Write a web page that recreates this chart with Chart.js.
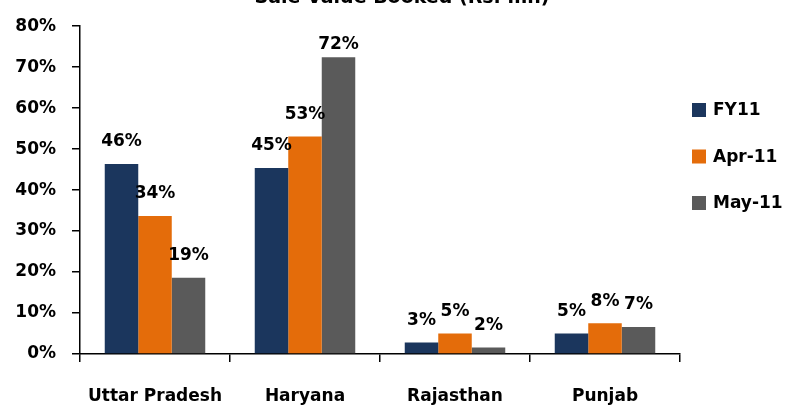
<!DOCTYPE html>
<html><head><meta charset="utf-8">
<script src="https://cdn.jsdelivr.net/npm/chart.js@4/dist/chart.umd.min.js"></script>
<style>html,body{margin:0;padding:0;background:#fff}#wrap{width:790px;height:407px}</style>
</head><body><div id="wrap"><canvas id="c" width="790" height="407"></canvas></div>
<script>
const titleText = "Sale Value Booked (Rs. mn)";
const categories = ["Uttar Pradesh", "Haryana", "Rajasthan", "Punjab"];
const seriesNames = ["FY11", "Apr-11", "May-11"];
const fy11 = [46.4, 45.4, 2.8, 5.0];
const apr11 = [33.7, 53.1, 5.0, 7.5];
const may11 = [18.6, 72.4, 1.6, 6.6];
const colors = ["#1B365D", "#E46C0A", "#5A5A5A"];
const yTicks = [0, 10, 20, 30, 40, 50, 60, 70, 80];

const FONT = "'DejaVu Sans', sans-serif";

const labelPlugin = {
  id: 'extras',
  afterDatasetsDraw(chart) {
    const ctx = chart.ctx;
    ctx.save();
    ctx.font = "bold 17px " + FONT;
    ctx.fillStyle = "#000";
    ctx.textAlign = "center";
    ctx.textBaseline = "middle";
    chart.data.datasets.forEach((ds, i) => {
      chart.getDatasetMeta(i).data.forEach((bar, j) => {
        const y = Math.max(bar.y - 22, chart.chartArea.top + 18);
        ctx.fillText(Math.round(ds.data[j]) + "%", bar.x, y);
      });
    });
    // title (clipped at top as in reference)
    ctx.font = "bold 19px " + FONT;
    ctx.textBaseline = "alphabetic";
    ctx.fillText(titleText, 402, 3);
    // legend
    ctx.font = "bold 17px " + FONT;
    ctx.textAlign = "left";
    ctx.textBaseline = "middle";
    const lx = 692, ly0 = 110, step = 46.5;
    chart.data.datasets.forEach((ds, i) => {
      const y = ly0 + i * step;
      ctx.fillStyle = ds.backgroundColor;
      ctx.fillRect(lx, y - 7, 14, 14);
      ctx.fillStyle = "#000";
      ctx.fillText(ds.label, lx + 21, y + 1);
    });
    ctx.restore();
  }
};

new Chart(document.getElementById('c'), {
  type: 'bar',
  data: {
    labels: categories,
    datasets: [
      { label: seriesNames[0], data: fy11, backgroundColor: colors[0] },
      { label: seriesNames[1], data: apr11, backgroundColor: colors[1] },
      { label: seriesNames[2], data: may11, backgroundColor: colors[2] }
    ]
  },
  options: {
    responsive: false,
    animation: false,
    devicePixelRatio: 1,
    layout: { padding: { top: 24, right: 110, left: 0, bottom: 0 } },
    datasets: { bar: { categoryPercentage: 0.67, barPercentage: 1.0 } },
    plugins: { legend: { display: false }, title: { display: false }, tooltip: { enabled: false } },
    scales: {
      x: {
        offset: true,
        grid: { display: true, offset: true, drawOnChartArea: false, drawTicks: true, tickLength: 8, color: "#000", lineWidth: 1.5 },
        border: { display: true, color: "#000", width: 1.5 },
        ticks: { color: "#000", font: { family: FONT, size: 17, weight: 'bold' }, padding: 24, maxRotation: 0 },
        afterFit(s) { s.height = 53; }
      },
      y: {
        min: 0, max: 80,
        afterBuildTicks(s) { s.ticks = yTicks.map(v => ({ value: v })); },
        grid: { display: true, drawOnChartArea: false, drawTicks: true, tickLength: 8, color: "#000", lineWidth: 1.5 },
        border: { display: true, color: "#000", width: 1.5 },
        ticks: { color: "#000", font: { family: FONT, size: 17, weight: 'bold' }, padding: 16, callback: v => v + "%" },
        afterFit(s) { s.width = 80; }
      }
    }
  },
  plugins: [labelPlugin]
});
</script>
</body></html>
